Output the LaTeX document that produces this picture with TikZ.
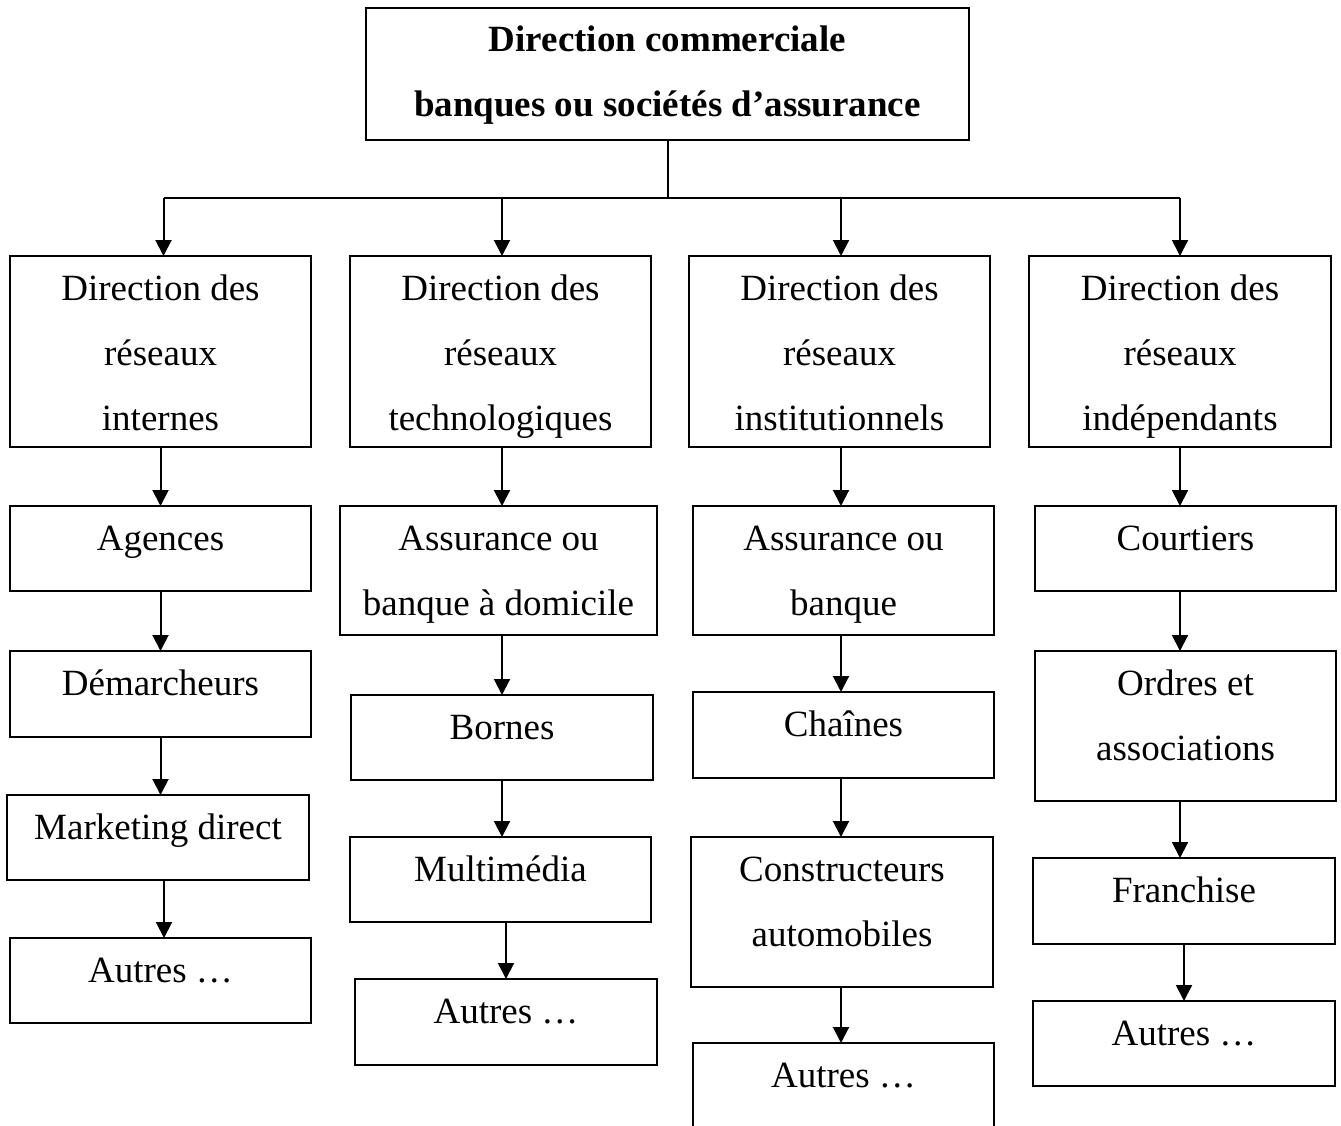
\documentclass[tikz,border=0pt]{standalone}
\usepackage{fontspec}
\setmainfont{Liberation Serif}
\usetikzlibrary{arrows.meta}

% text block of a box: fixed width and height, first baseline 44pt below the top
\newcommand\cellbox[3]{\parbox[t][#2][t]{#1}{\fontsize{37}{65}\selectfont\centering\rule{0pt}{44pt}#3}}

\begin{document}
\begin{tikzpicture}[x=1pt,y=-1pt,
  bx/.style={draw, line width=2pt, inner sep=0pt, outer sep=0pt, anchor=north west},
  ln/.style={line width=2pt},
  arr/.style={line width=2pt, -{Triangle[length=16pt,width=16pt]}}]
\clip (0,0) rectangle (1341,1126);

% head of the organisation
\node[bx] (top) at (366,8) {\cellbox{603pt}{132pt}{\bfseries Direction commerciale\\banques ou sociétés d’assurance}};

% four network directions
\node[bx] (d1) at (10,256)   {\cellbox{301pt}{191pt}{Direction des\\réseaux\\internes}};
\node[bx] (d2) at (350,256)  {\cellbox{301pt}{191pt}{Direction des\\réseaux\\technologiques}};
\node[bx] (d3) at (689,256)  {\cellbox{301pt}{191pt}{Direction des\\réseaux\\institutionnels}};
\node[bx] (d4) at (1029,256) {\cellbox{302pt}{191pt}{Direction des\\réseaux\\indépendants}};

% internal networks
\node[bx] (a1) at (10,506) {\cellbox{301pt}{85pt}{Agences}};
\node[bx] (a2) at (10,651) {\cellbox{301pt}{86pt}{Démarcheurs}};
\node[bx] (a3) at (7,795)  {\cellbox{302pt}{85pt}{Marketing direct}};
\node[bx] (a4) at (10,938) {\cellbox{301pt}{85pt}{Autres …}};

% technological networks
\node[bx] (b1) at (340,506) {\cellbox{317pt}{129pt}{Assurance ou\\banque à domicile}};
\node[bx] (b2) at (351,695) {\cellbox{302pt}{85pt}{Bornes}};
\node[bx] (b3) at (350,837) {\cellbox{301pt}{85pt}{Multimédia}};
\node[bx] (b4) at (355,979) {\cellbox{302pt}{86pt}{Autres …}};

% institutional networks
\node[bx] (c1) at (693,506)  {\cellbox{301pt}{129pt}{Assurance ou\\banque}};
\node[bx] (c2) at (693,692)  {\cellbox{301pt}{86pt}{Chaînes}};
\node[bx] (c3) at (691,837)  {\cellbox{302pt}{150pt}{Constructeurs\\automobiles}};
\node[bx] (c4) at (693,1043) {\cellbox{301pt}{150pt}{Autres …}};

% independent networks
\node[bx] (e1) at (1035,506)  {\cellbox{301pt}{85pt}{Courtiers}};
\node[bx] (e2) at (1035,651)  {\cellbox{301pt}{150pt}{Ordres et\\associations}};
\node[bx] (e3) at (1033,858)  {\cellbox{302pt}{86pt}{Franchise}};
\node[bx] (e4) at (1033,1001) {\cellbox{302pt}{85pt}{Autres …}};

% distribution bus under the head box
\coordinate (t1) at (163.5,198);
\coordinate (t2) at (502,198);
\coordinate (t3) at (841,198);
\coordinate (t4) at (1180,198);
\draw[ln] (top.south) -- (top.south |- t1);
\draw[ln] (t1) -- (t4);
\draw[arr] (t1) -- (t1 |- d1.north);
\draw[arr] (t2) -- (t2 |- d2.north);
\draw[arr] (t3) -- (t3 |- d3.north);
\draw[arr] (t4) -- (t4 |- d4.north);

% column 1
\draw[arr] (d1.south -| 160.5,0) -- (a1.north -| 160.5,0);
\draw[arr] (a1.south -| 160.5,0) -- (a2.north -| 160.5,0);
\draw[arr] (a2.south -| 160.5,0) -- (a3.north -| 160.5,0);
\draw[arr] (a3.south -| 164,0) -- (a4.north -| 164,0);

% column 2
\draw[arr] (d2.south -| 502,0) -- (b1.north -| 502,0);
\draw[arr] (b1.south -| 502,0) -- (b2.north -| 502,0);
\draw[arr] (b2.south -| 502,0) -- (b3.north -| 502,0);
\draw[arr] (b3.south -| 506,0) -- (b4.north -| 506,0);

% column 3
\draw[arr] (d3.south -| 841,0) -- (c1.north -| 841,0);
\draw[arr] (c1.south -| 841,0) -- (c2.north -| 841,0);
\draw[arr] (c2.south -| 841,0) -- (c3.north -| 841,0);
\draw[arr] (c3.south -| 841,0) -- (c4.north -| 841,0);

% column 4
\draw[arr] (d4.south -| 1180,0) -- (e1.north -| 1180,0);
\draw[arr] (e1.south -| 1180,0) -- (e2.north -| 1180,0);
\draw[arr] (e2.south -| 1180,0) -- (e3.north -| 1180,0);
\draw[arr] (e3.south -| 1184,0) -- (e4.north -| 1184,0);
\end{tikzpicture}
\end{document}
